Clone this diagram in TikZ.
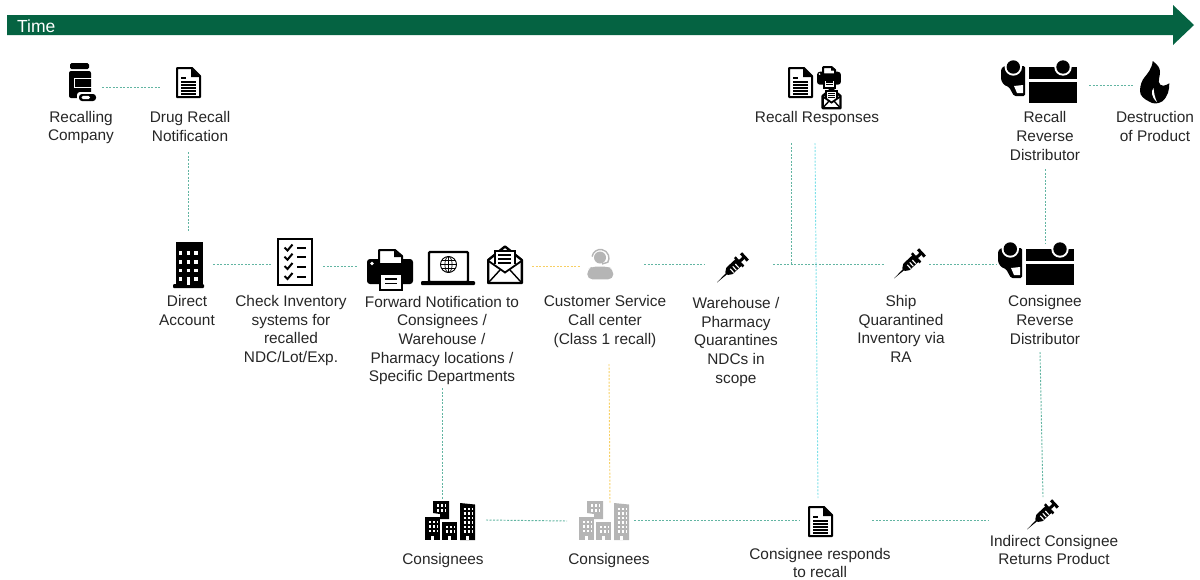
\documentclass[tikz,border=0pt]{standalone}
\usepackage{fontspec}
\setmainfont{Liberation Sans}
\definecolor{timegreen}{HTML}{056342}
\definecolor{linkteal}{HTML}{62B5A2}
\definecolor{linkyellow}{HTML}{F7CF63}
\definecolor{linkcyan}{HTML}{7CE0E8}
\definecolor{icongrey}{HTML}{B5B5B5}
\definecolor{textgrey}{HTML}{262626}
\tikzset{
	lbl/.style={inner sep=0pt,align=center,text=textgrey,font=\fontsize{15.4}{18.7}\selectfont},
	link/.style={draw=linkteal,line width=0.95pt,dash pattern=on 2pt off 1.5pt},
	linky/.style={link,draw=linkyellow},
	linkc/.style={link,draw=linkcyan},
	win/.style={white,line width=2.2pt,dash pattern=on 2.2pt off 2pt},
	bottle/.pic={
		\fill[rounded corners=1.5pt] (1,1) rectangle (20,7);
		\fill[rounded corners=2pt] (0,9) rectangle (22,36);
		\draw[white,line width=0.8pt] (5,16) -- (23,16) (5,16) -- (5,25) -- (23,25);
		\fill[white,rounded corners=3pt] (8,30) rectangle (29,41);
		\fill[rounded corners=3pt] (10,32) rectangle (27,39);
		\fill[white,rounded corners=1.5pt] (12.5,33.8) rectangle (21,37.2);
	},
	docicon/.pic={
		\draw[line width=2pt,fill=white,line join=round] (1,1) -- (16,1) -- (24,9) -- (24,30) -- (1,30) -- cycle;
		\fill (15,1) -- (24,10) -- (15,10) -- cycle;
		\draw[line width=1.2pt] (5,11) -- (10,11);
		\draw[line width=1.2pt] (5,15) -- (20,15);
		\draw[line width=1.2pt] (5,18) -- (20,18);
		\draw[line width=1.2pt] (5,21) -- (20,21);
		\draw[line width=1.2pt] (5,24) -- (20,24);
		\draw[line width=1.2pt] (5,27) -- (20,27);
	},
	tower/.pic={
		\fill (3,0) rectangle (30,44);
		\fill[rounded corners=1pt] (0,42) rectangle (31,46);
		\draw[white,line width=3.4pt,dash pattern=on 3.4pt off 4.2pt] (6,11) -- (28,11);
		\draw[white,line width=3.4pt,dash pattern=on 3.4pt off 4.2pt] (6,20) -- (28,20);
		\draw[white,line width=3.4pt,dash pattern=on 3.4pt off 4.2pt] (6,28.5) -- (28,28.5);
		\draw[white,line width=3.4pt,dash pattern=on 3.4pt off 4.2pt] (6,37) -- (28,37);
		\fill[white] (13.6,35.5) rectangle (17,42.5);
	},
	checklist/.pic={
		\draw[line width=2.4pt] (1.2,1.2) rectangle (34.8,46.8);
		\draw[line width=2pt] (7.5,9.5) -- (10.5,12.5) -- (15.5,6.5);
		\draw[line width=2pt] (7.5,18.7) -- (10.5,21.7) -- (15.5,15.7);
		\draw[line width=2pt] (7.5,28) -- (10.5,31) -- (15.5,25);
		\draw[line width=2pt] (7.5,38) -- (10.5,41) -- (15.5,35);
		\draw[line width=2pt] (20,10) -- (29,10);
		\draw[line width=2pt] (20,19.2) -- (29,19.2);
		\draw[line width=2pt] (20,28.5) -- (29,28.5);
		\draw[line width=2pt] (20,38.5) -- (29,38.5);
	},
	printer/.pic={
		\fill[rounded corners=3pt] (0,11) rectangle (46,36);
		\draw[line width=2pt,fill=white,line join=round] (12,2) -- (28,2) -- (35,8) -- (35,16) -- (12,16) -- cycle;
		\fill (27,2) -- (35,9) -- (27,9) -- cycle;
		\fill[white] (5,15.5) circle (1.8pt);
		\draw[line width=2pt,fill=white] (13,26) rectangle (35,42);
		\draw[line width=1.4pt] (18,31) -- (30,31);
		\draw[line width=1.4pt] (18,35.5) -- (30,35.5);
	},
	laptop/.pic={
		\draw[line width=2.2pt,rounded corners=1pt] (8,1) rectangle (47,31);
		\fill[rounded corners=1pt] (0,30) rectangle (54,34);
		\draw[line width=0.9pt] (27.5,13.5) circle (8pt);
		\draw[line width=0.7pt] (27.5,13.5) ellipse (3.6pt and 8pt);
		\draw[line width=0.7pt] (27.5,5.5) -- (27.5,21.5);
		\draw[line width=0.7pt] (19.5,13.5) -- (35.5,13.5);
		\draw[line width=0.7pt] (21,9.5) -- (34,9.5);
		\draw[line width=0.7pt] (21,17.5) -- (34,17.5);
	},
	mailicon/.pic={
		\draw[line width=2.4pt,fill=white,line join=round] (18,1.5) -- (34.8,15) -- (34.8,38) -- (1.2,38) -- (1.2,15) -- cycle;
		\draw[line width=2pt,fill=white] (7.5,6) rectangle (28,26);
		\draw[line width=1.4pt] (11,10) -- (24,10);
		\draw[line width=1.4pt] (11,14) -- (24,14);
		\draw[line width=1.4pt] (11,18) -- (24,18);
		\fill[white] (3,19) -- (33,19) -- (33,36) -- (3,36) -- cycle;
		\draw[line width=1.8pt] (1.5,16) -- (18,27.5) -- (34.5,16);
		\draw[line width=1.4pt] (2,37) -- (13,25);
		\draw[line width=1.4pt] (34,37) -- (23,25);
	},
	agent/.pic={
		\fill[rounded corners=5pt] (0.3,30.3) -- (0.3,20) -- (6,17.5) -- (20,17.5) -- (26.3,20) -- (26.3,30.3) -- cycle;
		\fill (13,8.5) circle (6pt);
		\draw[line width=1.4pt] (5.1,7.5) arc (170:-30:8.5pt) -- (15,15);
	},
	syringe/.pic={
		\begin{scope}[shift={(0,29.5)},rotate=43]
			\fill (0,0) -- (14,-0.9) -- (14,0.9) -- cycle;
			\fill (13,-1.8) -- (17,-4.5) -- (30,-4.5) -- (30,4.5) -- (17,4.5) -- (13,1.8) -- cycle;
			\fill (29,-6.3) rectangle (31.5,6.3);
			\fill (31,-1.5) rectangle (37,1.5);
			\fill (36,-5) rectangle (39,5);
			\draw[white,line width=1.1pt] (19,-1) -- (19,4);
			\draw[white,line width=1.1pt] (22.5,-1) -- (22.5,4);
			\draw[white,line width=1.1pt] (26,-1) -- (26,4);
		\end{scope}
	},
	movers/.pic={
		\fill[rounded corners=1.5pt] (0,9) -- (3,6) -- (24,6) -- (24,36) -- (13,36) -- (8,27) -- (3,25) -- (0,20) -- cycle;
		\fill[white] (13,26) -- (22,25) -- (22,33) -- (16,33) -- cycle;
		\fill[white] (12.3,7) circle (8.7pt);
		\fill (12.3,7) circle (6.7pt);
		\fill (28,6.5) rectangle (76,19);
		\fill[white] (62,7) circle (8.7pt);
		\fill (62,7) circle (6.7pt);
		\fill (28,22) rectangle (76,42.5);
	},
	flame/.pic={
		\fill (12.7,0) .. controls (18,4) and (20,7) .. (20,11) .. controls (20,15) and (18.5,18) .. (18.7,20.7) .. controls (19,23) and (21,25) .. (23.3,24.7) .. controls (25.5,24.5) and (27.5,23.5) .. (29.3,22.3) .. controls (29.5,28) and (28,36) .. (22,40.5) .. controls (18,43) and (13,43) .. (10,41) .. controls (4,38) and (0,35) .. (0,30) .. controls (0,24) and (2,19) .. (5,15.7) .. controls (7,13) and (12,8) .. (12.7,0) -- cycle;
		\fill[white] (13.5,27) .. controls (11,30) and (11,36) .. (17,41) .. controls (14.5,36) and (14,31) .. (13.5,27) -- cycle;
	},
	city/.pic={
		\fill (8,0) -- (24,0) -- (24,18) -- (15,18) -- (15,13) -- (8,12) -- cycle;
		\fill (0,16) rectangle (15,39);
		\fill (17,21) rectangle (32,39);
		\fill (35,2) -- (50,3.5) -- (50,39) -- (35,39) -- cycle;
		\draw[win] (12,4.5) -- (20.5,4.5);
		\draw[win] (12,9.5) -- (20.5,9.5);
		\draw[win] (4,21) -- (12.5,21);
		\draw[win] (4,25.5) -- (12.5,25.5);
		\draw[win] (4,30) -- (12.5,30);
		\draw[win] (21,26) -- (29.5,26);
		\draw[win] (21,30.5) -- (29.5,30.5);
		\draw[win] (38.5,8) -- (47,8);
		\draw[win] (38.5,12.5) -- (47,12.5);
		\draw[win] (38.5,17) -- (47,17);
		\draw[win] (38.5,21.5) -- (47,21.5);
		\draw[win] (38.5,26) -- (47,26);
		\draw[win] (38.5,30.5) -- (47,30.5);
		\fill[white] (6,35) rectangle (9,39);
		\fill[white] (23,35) rectangle (26,39);
		\fill[white] (41,35) rectangle (44,39);
	}
}
\begin{document}
\begin{tikzpicture}[x=1pt,y=-1pt]
	\useasboundingbox (0,0) rectangle (1200,579);

	% time arrow
	\fill[timegreen] (7,15) -- (1173,15) -- (1173,5) -- (1194,25) -- (1173,45) -- (1173,35) -- (7,35) -- cycle;
	\draw (17,26) node (time)[anchor=west,inner sep=0pt,text=white,font=\fontsize{17.5}{20}\selectfont]{Time};

	% icons
	\pic at (69,62) {bottle};
	\pic at (176,67) {docicon};
	\pic at (173,242) {tower};
	\pic at (277,238) {checklist};
	\pic at (367,248) {printer};
	\pic at (421,251) {laptop};
	\pic at (487,245) {mailicon};
	\pic[color=icongrey] at (587,249) {agent};
	\pic at (717,253) {syringe};
	\pic at (894,249) {syringe};
	\pic at (1027,500) {syringe};
	\pic at (788,67) {docicon};
	\pic[scale=0.52] at (817,66) {printer};
	\pic[scale=0.53] at (822,88) {mailicon};
	\pic at (1001,60) {movers};
	\pic at (998,242) {movers};
	\pic at (1140,61) {flame};
	\pic at (425,501) {city};
	\pic[color=icongrey] at (579,501) {city};
	\pic at (808,506) {docicon};

	% labels
	\draw (81,127.5) node (recalling)[lbl]{Recalling\\Company};
	\draw (190,126.5) node (notice)[lbl]{Drug Recall\\Notification};
	\draw (817,119) node (responses)[lbl]{Recall Responses};
	\draw (1045,136) node (recallrd)[lbl]{Recall\\Reverse\\Distributor};
	\draw (1155,126.5) node (destroy)[lbl]{Destruction\\of Product};
	\draw (187,310.5) node (direct)[lbl]{Direct\\Account};
	\draw (291,330.5) node (check)[lbl]{Check Inventory\\systems for\\recalled\\NDC/Lot/Exp.};
	\draw (442,340.5) node (forward)[lbl]{Forward Notification to\\Consignees /\\Warehouse /\\Pharmacy locations /\\Specific Departments};
	\draw (605,321.5) node (service)[lbl]{Customer Service\\Call center\\(Class 1 recall)};
	\draw (736,342) node (quarantine)[lbl]{Warehouse /\\Pharmacy\\Quarantines\\NDCs in\\scope};
	\draw (901,329) node (ship)[lbl]{Ship\\Quarantined\\Inventory via\\RA};
	\draw (1045,320) node (consrd)[lbl]{Consignee\\Reverse\\Distributor};
	\draw (443,561) node (cons1)[lbl]{Consignees};
	\draw (609,561) node (cons2)[lbl]{Consignees};
	\draw (820,563) node (consresp)[lbl]{Consignee responds\\to recall};
	\draw (1054,550) node (indirect)[lbl]{Indirect Consignee\\Returns Product};

	% connector ends
	\coordinate (bottleE) at (102,87);
	\coordinate (docW) at (160,87);
	\coordinate (docS) at (188,152);
	\coordinate (towerN) at (188,232);
	\coordinate (towerE) at (213,264);
	\coordinate (checkW) at (271,264);
	\coordinate (checkE) at (323,266);
	\coordinate (printW) at (358,266);
	\coordinate (mailE) at (532,266);
	\coordinate (agentW) at (580,266);
	\coordinate (agentE) at (644,264);
	\coordinate (syrW) at (704,264);
	\coordinate (syrE) at (773,264);
	\coordinate (shipW) at (885,264);
	\coordinate (join) at (791,264);
	\coordinate (respA) at (791,143);
	\coordinate (respB) at (815,143);
	\coordinate (docN) at (818,498);
	\coordinate (shipE) at (929,264);
	\coordinate (moverW) at (996,264);
	\coordinate (rrdS) at (1045,169);
	\coordinate (crdN) at (1045,243);
	\coordinate (rrdE) at (1089,85);
	\coordinate (flameW) at (1133,85);
	\coordinate (crdS) at (1040,352);
	\coordinate (syrN) at (1043,497);
	\coordinate (fwdS) at (442,388);
	\coordinate (cityN) at (442,499);
	\coordinate (svcS) at (609,364);
	\coordinate (city2N) at (610,503);
	\coordinate (cityE) at (486,520);
	\coordinate (city2W) at (567,521);
	\coordinate (city2E) at (634,520);
	\coordinate (docW2) at (800,520);
	\coordinate (docE) at (872,520);
	\coordinate (syr3W) at (988,520);

	% connectors
	\draw[link] (bottleE)--(docW);
	\draw[link] (docS)--(towerN);
	\draw[link] (towerE)--(checkW);
	\draw[link] (checkE)--(printW);
	\draw[linky] (mailE)--(agentW);
	\draw[link] (agentE)--(syrW);
	\draw[link] (syrE)--(shipW);
	\draw[link] (respA)--(join);
	\draw[linkc] (respB)--(docN);
	\draw[link] (shipE)--(moverW);
	\draw[link] (rrdS)--(crdN);
	\draw[link] (rrdE)--(flameW);
	\draw[link] (crdS)--(syrN);
	\draw[link] (fwdS)--(cityN);
	\draw[linky] (svcS)--(city2N);
	\draw[link] (cityE)--(city2W);
	\draw[link] (city2E)--(docW2);
	\draw[link] (docE)--(syr3W);
\end{tikzpicture}
\end{document}
